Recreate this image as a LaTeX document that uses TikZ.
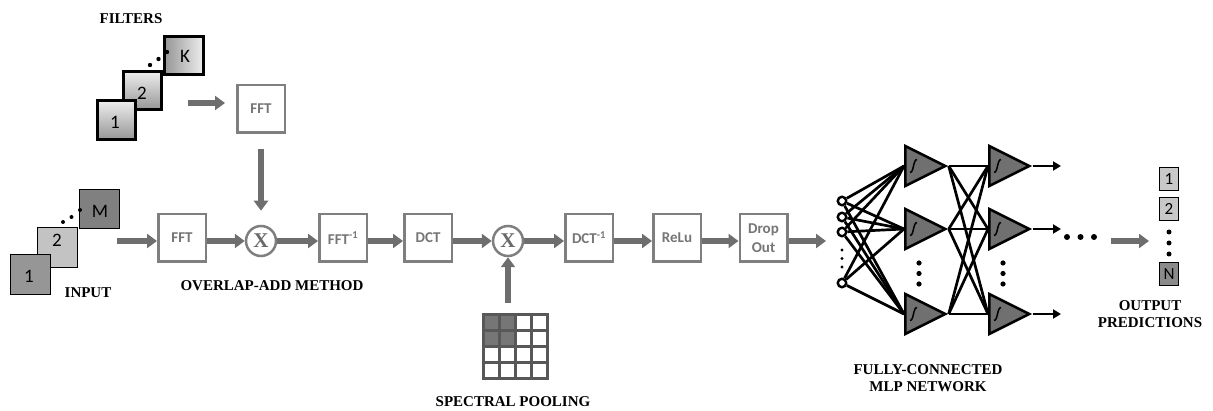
\documentclass[tikz,border=0pt]{standalone}
\usepackage{fontspec}
\setmainfont{Liberation Serif}
\newfontfamily\boxfont{Carlito}
\usetikzlibrary{arrows.meta,shapes.geometric}
\pgfdeclarelayer{bg}
\pgfsetlayers{bg,main}

\definecolor{boxline}{RGB}{127,127,127}
\definecolor{boxtext}{RGB}{118,118,118}
\definecolor{multtext}{RGB}{105,105,105}
\definecolor{flowgray}{RGB}{110,110,110}
\definecolor{inOne}{RGB}{150,150,150}
\definecolor{inTwo}{RGB}{195,195,195}
\definecolor{inM}{RGB}{128,128,128}
\definecolor{outLight}{RGB}{200,200,200}
\definecolor{outDark}{RGB}{138,138,138}
\definecolor{neuronfill}{RGB}{112,112,112}
\definecolor{gridline}{RGB}{88,88,88}
\definecolor{gridkeep}{RGB}{118,118,118}
\definecolor{shadeLight}{RGB}{238,238,238}
\definecolor{shadeDark}{RGB}{150,150,150}

% sigmoid glyph inside a neuron
\newcommand\sigcurve[1]{%
  \draw[line width=1.5pt] ([shift={(6,6.5)}]#1.west)
    .. controls ([shift={(10,6.5)}]#1.west) and ([shift={(9,-6.5)}]#1.west)
    .. ([shift={(13,-6.5)}]#1.west);}

\begin{document}
\begin{tikzpicture}[x=1pt,y=-1pt,
  stage/.style={draw=boxline, line width=2.5pt, minimum width=47.5pt,
    minimum height=47.5pt, inner sep=0pt, fill=white, text=boxtext,
    font=\boxfont\bfseries\fontsize{15}{19}\selectfont, align=center},
  mult/.style={circle, draw=boxline, line width=2.5pt, minimum size=30pt,
    inner sep=0pt, fill=white, text=multtext,
    font=\bfseries\fontsize{21}{21}\selectfont},
  flow/.style={draw=flowgray, line width=6pt,
    -{Triangle[width=14pt,length=10pt]}},
  caption/.style={font=\bfseries\fontsize{15}{17}\selectfont, align=center,
    inner sep=0pt},
  filt/.style={draw=black, line width=3pt, minimum size=38.5pt, inner sep=0pt},
  inbox/.style={draw=black, line width=1pt, minimum width=40pt,
    minimum height=39.5pt, inner sep=0pt},
  num/.style={font=\boxfont\fontsize{19}{19}\selectfont, inner sep=0pt},
  obox/.style={draw=black, line width=1pt, minimum width=19pt,
    minimum height=23pt, inner sep=0pt, font=\boxfont\fontsize{17}{17}\selectfont},
  inode/.style={circle, draw=black, line width=2.4pt, fill=white,
    minimum size=8.5pt, inner sep=0pt},
  neuron/.style={isosceles triangle, isosceles triangle stretches,
    shape border rotate=0, draw=black, line width=2.6pt, fill=neuronfill,
    minimum width=40pt, minimum height=40pt, inner sep=0pt, anchor=west},
  wire/.style={draw=black, line width=2.7pt},
]
\useasboundingbox (0,0) rectangle (1213,411);

% ---------- filter bank ----------
\node[caption] (capFilters) at (131,19) {FILTERS};
\node[filt, left color=shadeDark, right color=shadeLight] (fK) at (184,55.5) {};
\node[filt, top color=shadeLight, bottom color=shadeDark] (f2) at (142.5,90.5) {};
\node[filt, top color=shadeLight, bottom color=shadeDark] (f1) at (116.5,120) {};
\node[num] (lblK) at (185,56) {K};
\node[num] (lblF2) at (142,93) {2};
\node[num] (lblF1) at (115,122) {1};
\fill (150,65) circle (2.2) (158.5,59) circle (2.2) (167,52) circle (2.2);

% ---------- input stack ----------
\node[inbox, fill=inM] (inMbox) at (99.5,209) {};
\node[inbox, fill=inTwo] (in2) at (57.5,247.5) {};
\node[inbox, fill=inOne] (in1) at (30.5,274.5) {};
\node[num] (lblM) at (100,211) {M};
\node[num] (lblI2) at (57,240) {2};
\node[num] (lblI1) at (29,276) {1};
\fill (63,222) circle (2) (71.5,217) circle (2) (80,210) circle (2);
\node[caption] (capInput) at (88,293) {INPUT};

% ---------- overlap-add convolution ----------
\node[stage] (fftT) at (261,109) {FFT};
\node[stage] (fftB) at (182,238) {FFT};
\node[mult] (mA) at (261,241) {X};
\node[stage] (ifft) at (343,238) {FFT\textsuperscript{-1}};
\node[caption] (capOla) at (272,286) {OVERLAP-ADD METHOD};

\coordinate (fStart) at (188,103);
\draw[flow, shorten >=11pt] (fStart) -- (fftT.west |- fStart);
\draw[flow, shorten <=15pt, shorten >=14pt] (fftT.south) -- (mA.north);
\coordinate (inStart) at (117,241);
\draw[flow] (inStart) -- (fftB.west |- inStart);
\draw[flow] (fftB.east |- mA) -- (mA.west);
\draw[flow] (mA.east) -- (ifft.west |- mA);

% ---------- spectral pooling ----------
\node[stage] (dct) at (428,238) {DCT};
\node[mult] (mB) at (508,241) {X};
\node[stage] (idct) at (589,238) {DCT\textsuperscript{-1}};
\node[stage] (relu) at (677,238) {ReLu};
\node[stage] (drop) at (763.5,238) {Drop\\Out};

\node[draw=none, fill=gridline, minimum size=67pt, inner sep=0pt] (pool) at (515.5,346.5) {};
\foreach \i in {0,...,3}
  \foreach \j in {0,...,3}
    \fill[white] ([shift={(3+16*\i,3+16*\j)}]pool.north west) rectangle ++(13,13);
\foreach \i in {0,1}
  \foreach \j in {0,1}
    \fill[gridkeep] ([shift={(3+16*\i,3+16*\j)}]pool.north west) rectangle ++(13,13);
\node[caption] (capPool) at (513,402) {SPECTRAL POOLING};

\draw[flow] (ifft.east |- mA) -- (dct.west |- mA);
\draw[flow] (dct.east |- mB) -- (mB.west);
\draw[flow] (mB.east) -- (idct.west |- mB);
\draw[flow] (idct.east |- mB) -- (relu.west |- mB);
\draw[flow] (relu.east |- mB) -- (drop.west |- mB);
\coordinate (dropOut) at (826,241);
\draw[flow] (drop.east |- mB) -- (dropOut);
\draw[flow, shorten <=10pt] (pool.north -| mB) -- (mB.south);

% ---------- fully-connected MLP ----------
\node[inode] (x1) at (842,201) {};
\node[inode] (x2) at (842,217) {};
\node[inode] (x3) at (842,232) {};
\node[inode] (x4) at (842,283) {};
\fill (842,250) circle (1.7) (842,258.5) circle (1.7) (842,267) circle (1.7);

\node[neuron] (h1a) at (904,166) {};
\node[neuron] (h1b) at (904,229) {};
\node[neuron] (h1c) at (904,314) {};
\node[neuron] (h2a) at (988,166) {};
\node[neuron] (h2b) at (988,229) {};
\node[neuron] (h2c) at (988,314) {};
\foreach \n in {h1a,h1b,h1c,h2a,h2b,h2c} { \sigcurve{\n} }

\begin{pgfonlayer}{bg}
  \foreach \i in {1,...,4}
    \foreach \j in {a,b,c}
      \draw[wire] (x\i) -- (h1\j.west);
  \foreach \i in {a,b,c}
    \foreach \j in {a,b,c}
      \draw[wire] (h1\i.east) -- (h2\j.west);
\end{pgfonlayer}

\coordinate (ya) at (1061,166);
\coordinate (yb) at (1061,229);
\coordinate (yc) at (1061,314);
\foreach \k in {a,b,c}
  \draw[wire, -{Triangle[length=8pt,width=9pt]}] (h2\k.east) -- (y\k);

\fill (919,263) circle (2.6) (919,273.5) circle (2.6) (919,284) circle (2.6);
\fill (1003,263) circle (2.6) (1003,273.5) circle (2.6) (1003,284) circle (2.6);
\fill (1067,237) circle (3) (1080.5,237) circle (3) (1094,237) circle (3);
\node[caption] (capMlp) at (928,378.5) {FULLY-CONNECTED\\MLP NETWORK};

% ---------- output predictions ----------
\node[obox, fill=outLight] (o1) at (1169,179) {1};
\node[obox, fill=outLight] (o2) at (1169,209) {2};
\node[obox, fill=outDark] (oN) at (1169,274.5) {N};
\fill (1169,232) circle (2.5) (1169,243) circle (2.5) (1169,254) circle (2.5);
\coordinate (mlpOut) at (1111,241);
\draw[flow, shorten >=10pt] (mlpOut) -- (o2.west |- mlpOut);
\node[caption] (capOut) at (1150,314.5) {OUTPUT\\PREDICTIONS};
\end{tikzpicture}
\end{document}
